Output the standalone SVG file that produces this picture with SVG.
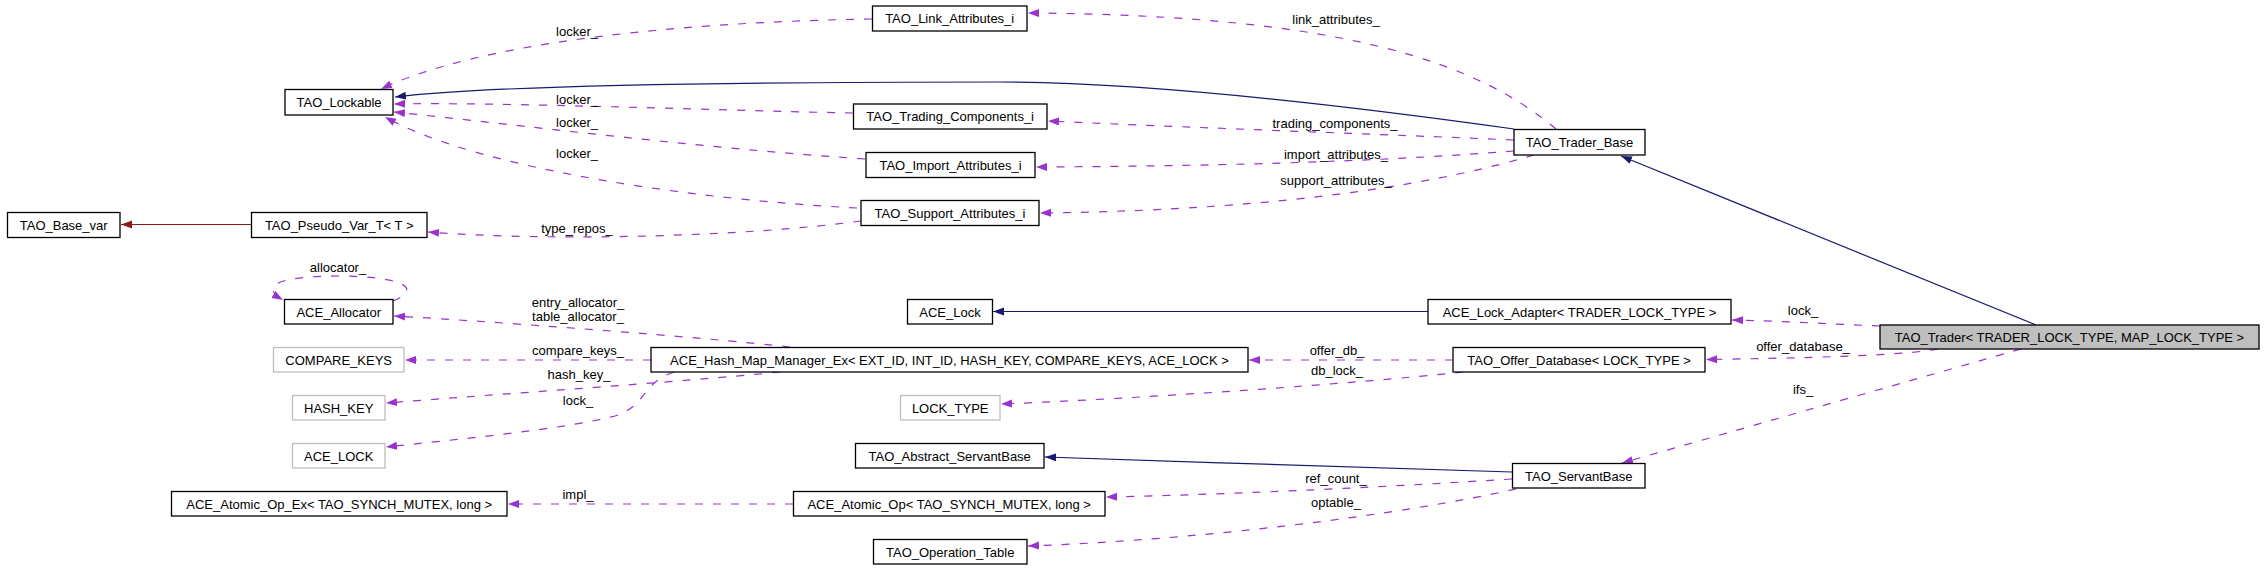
<svg xmlns="http://www.w3.org/2000/svg" width="2264" height="580" viewBox="0 0 2264 580">
<style>
.n rect{fill:#ffffff;stroke:#000000;stroke-width:1.3}
.n.g rect{stroke:#bfbfbf}
.n.cur rect{fill:#bfbfbf}
text{font-family:"Liberation Sans",Arial,sans-serif;font-size:13px;fill:#000000}
.n text{text-anchor:middle}
.lbl{text-anchor:middle}
.e{fill:none;stroke-width:1.2}
.u{stroke:#9a32cd;stroke-dasharray:8,10;marker-end:url(#ap)}
.i{stroke:#191970;marker-end:url(#an)}
.r{stroke:#8b1a1a;marker-end:url(#ar)}
</style>
<defs>
<marker id="ap" markerUnits="userSpaceOnUse" markerWidth="12" markerHeight="9" refX="11" refY="4" orient="auto"><path d="M0,0 L11,4 L0,8 z" fill="#9a32cd"/></marker>
<marker id="an" markerUnits="userSpaceOnUse" markerWidth="12" markerHeight="9" refX="11" refY="4" orient="auto"><path d="M0,0 L11,4 L0,8 z" fill="#191970"/></marker>
<marker id="ar" markerUnits="userSpaceOnUse" markerWidth="12" markerHeight="9" refX="11" refY="4" orient="auto"><path d="M0,0 L11,4 L0,8 z" fill="#8b1a1a"/></marker>
</defs>
<rect x="0" y="0" width="2264" height="580" fill="#ffffff"/>
<g id="edges">
<!-- inheritance -->
<path class="e i" d="M1514,129 C1350,106 1150,82 1000,82 C800,82 500,84 395,97"/>
<path class="e i" d="M2036,325 L1621,156"/>
<path class="e r" d="M251,224.5 L121,224.5"/>
<path class="e i" d="M1428,311.5 L993,311.5"/>
<path class="e i" d="M1512,472 C1400,469 1200,462 1045,457"/>
<!-- usage -->
<path class="e u" d="M872,19 C680,22 480,42 381,89"/>
<path class="e u" d="M853,113 C700,110 500,102 394,104"/>
<path class="e u" d="M865,159 C700,148 520,125 394,112"/>
<path class="e u" d="M857,208 C700,200 480,170 385,117"/>
<path class="e u" d="M861,221 C750,236 560,242 428,232"/>
<path class="e u" d="M1556,129 C1480,65 1350,15 1028,13"/>
<path class="e u" d="M1514,140 C1350,133 1200,128 1048,121"/>
<path class="e u" d="M1514,151 C1400,160 1250,166 1036,167"/>
<path class="e u" d="M1534,155 C1450,180 1300,210 1040,213"/>
<path class="e u" d="M393,301 C420,290 410,277 340,276 C270,276 262,288 283,300"/>
<path class="e u" d="M790,347 C700,337 500,322 394,316"/>
<path class="e u" d="M651,360 L405,360"/>
<path class="e u" d="M780,372 C680,382 500,394 386,403"/>
<path class="e u" d="M674,372 C640,384 648,405 615,416 C560,430 450,440 386,447"/>
<path class="e u" d="M1453,360 L1249,360"/>
<path class="e u" d="M1463,372 C1350,384 1150,398 1001,404"/>
<path class="e u" d="M1880,326 C1830,324 1780,321 1732,320"/>
<path class="e u" d="M1938,349 C1900,356 1800,358 1706,359.5"/>
<path class="e u" d="M2021,349 L1622,463"/>
<path class="e u" d="M1512,479 C1400,486 1250,494 1106,497"/>
<path class="e u" d="M1516,489 C1400,515 1200,540 1028,546"/>
<path class="e u" d="M793,504 L508,504"/>
<!-- labels -->
<text class="lbl" x="577" y="36">locker_</text>
<text class="lbl" x="577" y="104">locker_</text>
<text class="lbl" x="577" y="127">locker_</text>
<text class="lbl" x="577" y="158">locker_</text>
<text class="lbl" x="577" y="233">type_repos_</text>
<text class="lbl" x="1336" y="24">link_attributes_</text>
<text class="lbl" x="1335" y="128">trading_components_</text>
<text class="lbl" x="1336" y="159">import_attributes_</text>
<text class="lbl" x="1336" y="185">support_attributes_</text>
<text class="lbl" x="338" y="272">allocator_</text>
<text class="lbl" x="578" y="307">entry_allocator_</text>
<text class="lbl" x="578" y="321">table_allocator_</text>
<text class="lbl" x="578" y="355">compare_keys_</text>
<text class="lbl" x="579" y="379">hash_key_</text>
<text class="lbl" x="578" y="405">lock_</text>
<text class="lbl" x="578" y="499">impl_</text>
<text class="lbl" x="1337" y="355">offer_db_</text>
<text class="lbl" x="1337" y="375">db_lock_</text>
<text class="lbl" x="1336" y="483">ref_count_</text>
<text class="lbl" x="1336" y="507">optable_</text>
<text class="lbl" x="1803" y="315">lock_</text>
<text class="lbl" x="1803" y="351">offer_database_</text>
<text class="lbl" x="1803" y="394">ifs_</text>
</g>
<g id="n_lockable" class="n"><rect x="285" y="89.5" width="108" height="25.5"/><text x="339" y="107">TAO_Lockable</text></g>
<g id="n_link" class="n"><rect x="872.5" y="6" width="154.5" height="25"/><text x="949.7" y="23">TAO_Link_Attributes_i</text></g>
<g id="n_trading" class="n"><rect x="853.5" y="104" width="193.5" height="25"/><text x="950.2" y="121">TAO_Trading_Components_i</text></g>
<g id="n_import" class="n"><rect x="866" y="152.5" width="169" height="25"/><text x="950.5" y="169.5">TAO_Import_Attributes_i</text></g>
<g id="n_support" class="n"><rect x="861" y="200.5" width="178" height="25"/><text x="950" y="217.5">TAO_Support_Attributes_i</text></g>
<g id="n_traderbase" class="n"><rect x="1514" y="129.5" width="131" height="25.5"/><text x="1579.5" y="147">TAO_Trader_Base</text></g>
<g id="n_basevar" class="n"><rect x="7.5" y="212.5" width="112.5" height="25"/><text x="63.7" y="229.5">TAO_Base_var</text></g>
<g id="n_pseudovar" class="n"><rect x="251.5" y="212.5" width="175.5" height="25"/><text x="339.2" y="229.5">TAO_Pseudo_Var_T&lt; T &gt;</text></g>
<g id="n_allocator" class="n"><rect x="284.5" y="299.5" width="108.5" height="24.5"/><text x="338.7" y="316.5">ACE_Allocator</text></g>
<g id="n_comparekeys" class="n g"><rect x="273.5" y="347.5" width="130.5" height="24.5"/><text x="338.7" y="364.5">COMPARE_KEYS</text></g>
<g id="n_hashkey" class="n g"><rect x="292.5" y="395.5" width="92.5" height="24.5"/><text x="338.7" y="412.5">HASH_KEY</text></g>
<g id="n_acelock_t" class="n g"><rect x="292.5" y="443.5" width="92.5" height="24.5"/><text x="338.7" y="460.5">ACE_LOCK</text></g>
<g id="n_atomicopex" class="n"><rect x="171.5" y="491.5" width="335.5" height="24.5"/><text x="339.2" y="508.5">ACE_Atomic_Op_Ex&lt; TAO_SYNCH_MUTEX, long &gt;</text></g>
<g id="n_hashmap" class="n"><rect x="651" y="347.5" width="597" height="24.5"/><text x="949.5" y="364.5">ACE_Hash_Map_Manager_Ex&lt; EXT_ID, INT_ID, HASH_KEY, COMPARE_KEYS, ACE_LOCK &gt;</text></g>
<g id="n_acelock" class="n"><rect x="907.5" y="299.5" width="85" height="24.5"/><text x="950" y="316.5">ACE_Lock</text></g>
<g id="n_lockadapter" class="n"><rect x="1428" y="299.5" width="303" height="24.5"/><text x="1579.5" y="316.5">ACE_Lock_Adapter&lt; TRADER_LOCK_TYPE &gt;</text></g>
<g id="n_offerdb" class="n"><rect x="1453" y="347.5" width="252" height="24.5"/><text x="1579" y="364.5">TAO_Offer_Database&lt; LOCK_TYPE &gt;</text></g>
<g id="n_locktype" class="n g"><rect x="900.5" y="395.5" width="99.5" height="24.5"/><text x="950.2" y="412.5">LOCK_TYPE</text></g>
<g id="n_abstractsb" class="n"><rect x="855.5" y="443.5" width="188.5" height="24.5"/><text x="949.7" y="460.5">TAO_Abstract_ServantBase</text></g>
<g id="n_servantbase" class="n"><rect x="1512.5" y="463.5" width="132.5" height="24.5"/><text x="1578.7" y="480.5">TAO_ServantBase</text></g>
<g id="n_atomicop" class="n"><rect x="793.5" y="491.5" width="311.5" height="24.5"/><text x="949.2" y="508.5">ACE_Atomic_Op&lt; TAO_SYNCH_MUTEX, long &gt;</text></g>
<g id="n_optable" class="n"><rect x="873.5" y="539.5" width="153.5" height="24.5"/><text x="950.2" y="556.5">TAO_Operation_Table</text></g>
<g id="n_trader" class="n cur"><rect x="1880" y="325" width="379" height="24"/><text x="2069.5" y="341.5">TAO_Trader&lt; TRADER_LOCK_TYPE, MAP_LOCK_TYPE &gt;</text></g>
</svg>
